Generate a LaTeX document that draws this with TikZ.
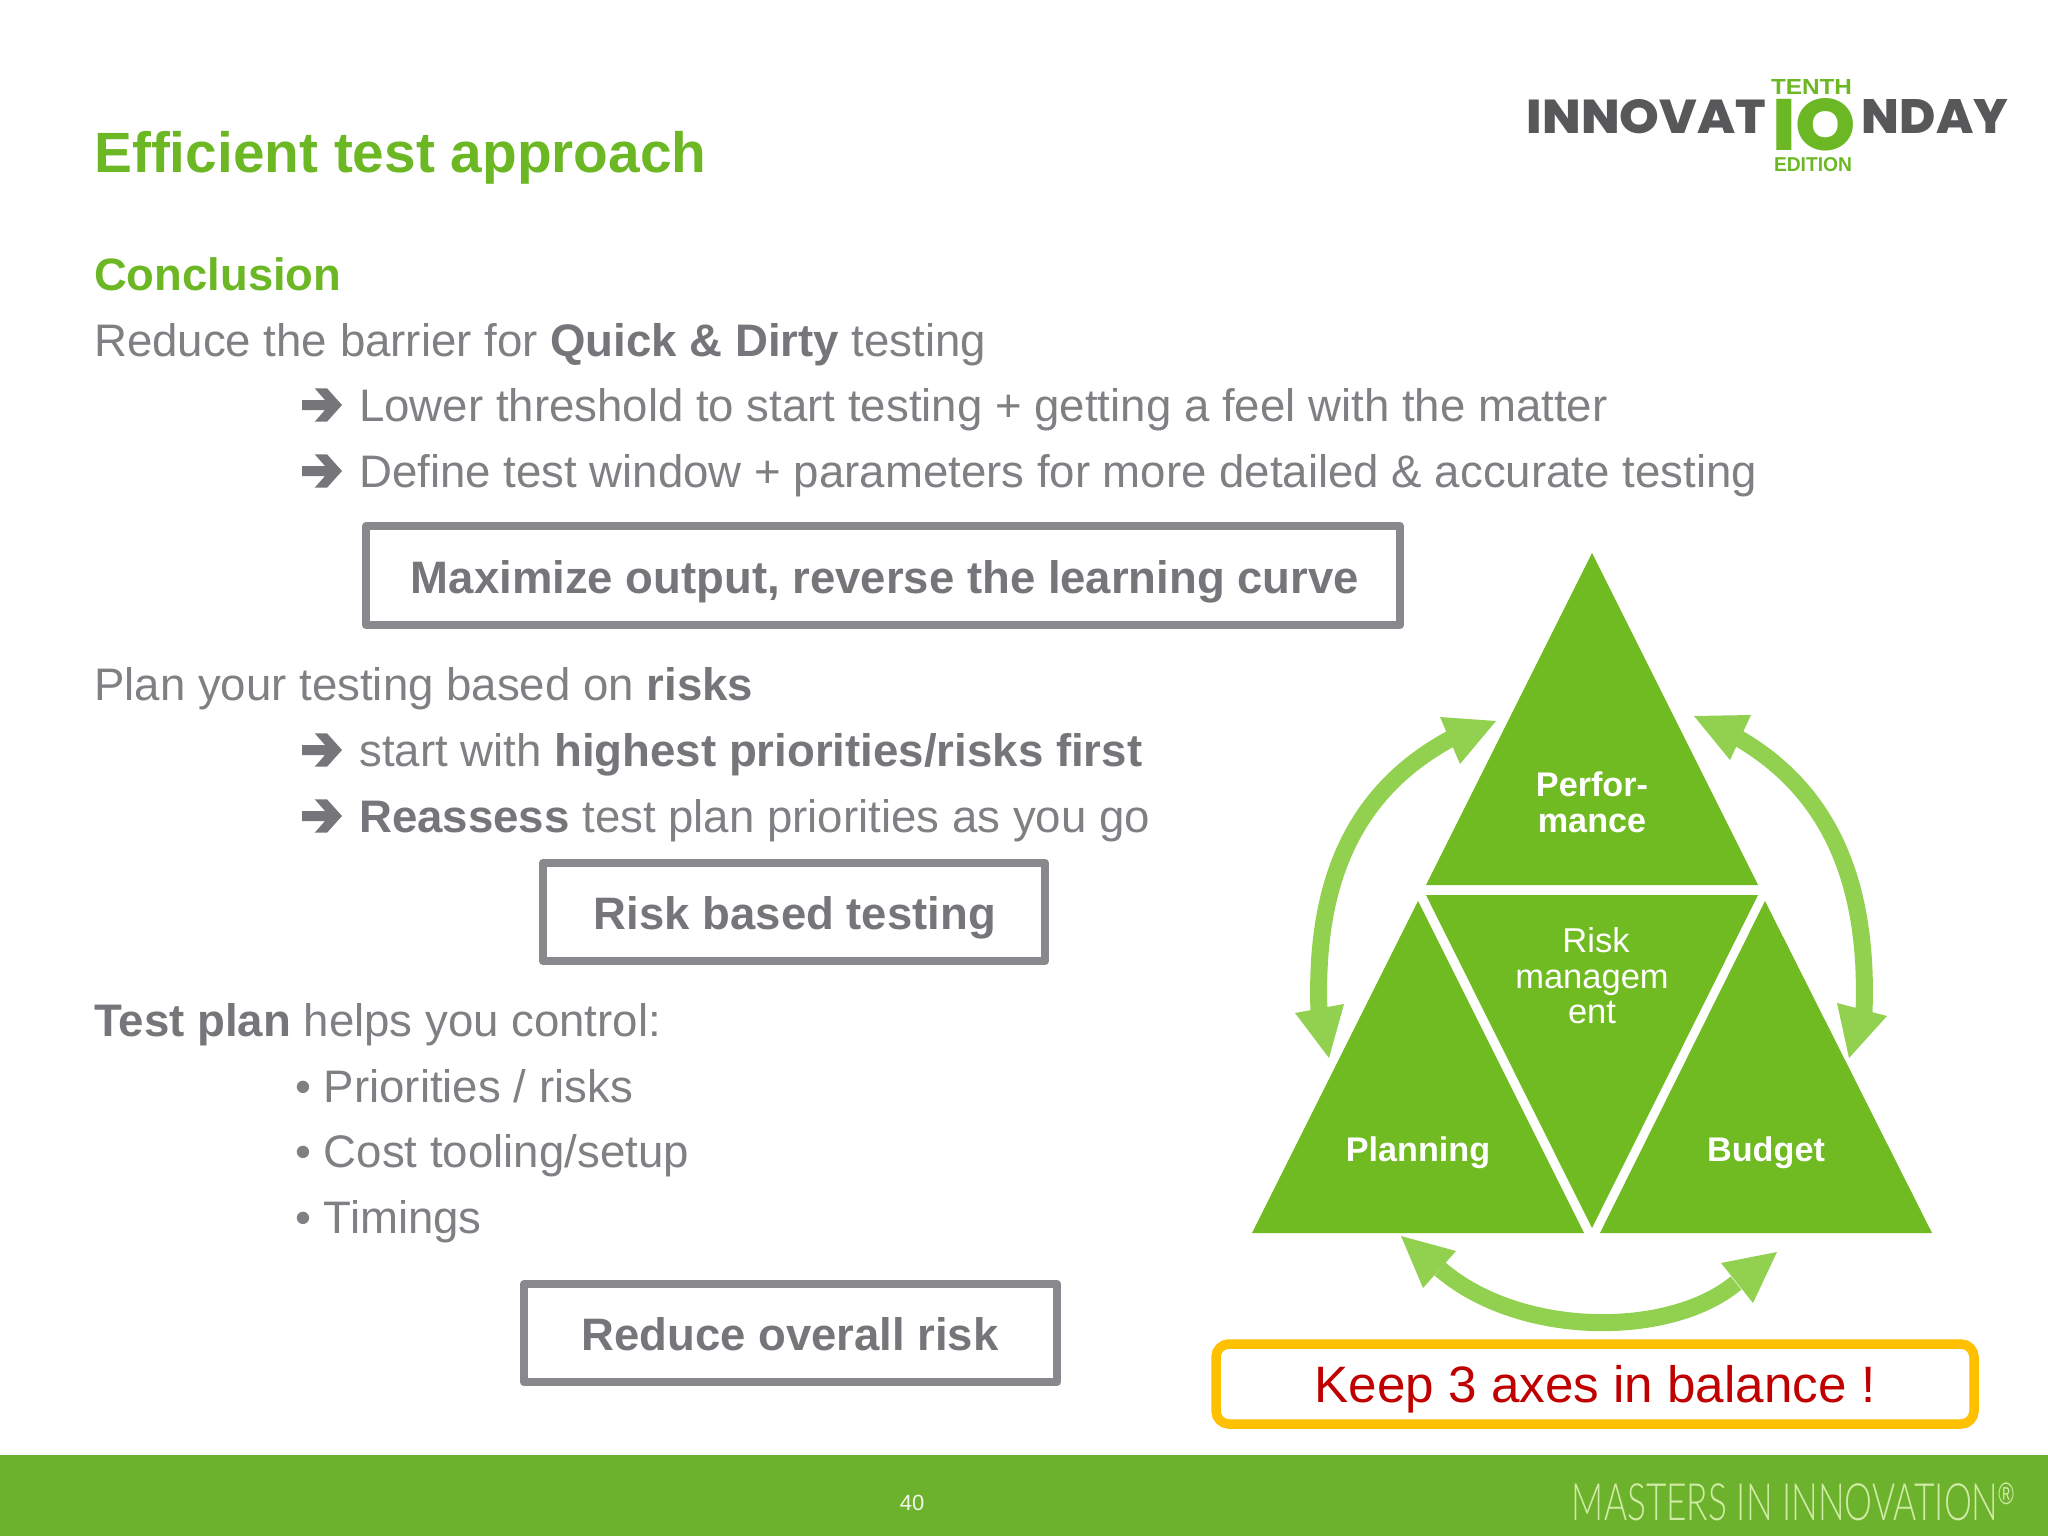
\documentclass[tikz,border=0pt]{standalone}
\usepackage{fontspec}
\usepackage{graphicx}
\setmainfont{Liberation Sans}
\newfontfamily\logofont{Poppins}[UprightFont=* ExtraBold]
\newfontfamily\thinfont{Lato Light}
\definecolor{titlegreen}{RGB}{108,184,36}
\definecolor{trigreen}{RGB}{112,186,34}
\definecolor{arclight}{RGB}{146,208,80}
\definecolor{bargreen}{RGB}{109,178,44}
\definecolor{bodygrey}{RGB}{128,128,132}
\definecolor{boldgrey}{RGB}{118,118,122}
\definecolor{boxgrey}{RGB}{137,136,140}
\definecolor{logogrey}{RGB}{88,88,90}
\definecolor{keepred}{RGB}{192,0,0}
\definecolor{keepgold}{RGB}{255,192,0}
\definecolor{slogan}{RGB}{208,235,165}
\tikzset{
  txt/.style={anchor=base west,inner sep=0pt,text=bodygrey,font=\fontsize{45.6}{50}\selectfont},
  heading/.style={anchor=base west,inner sep=0pt,text=titlegreen,font=\bfseries\fontsize{45.4}{50}\selectfont},
  boxtext/.style={anchor=base,inner sep=0pt,text=boldgrey,font=\bfseries\fontsize{45.5}{50}\selectfont},
  greybox/.style={draw=boxgrey,line width=8pt,line join=round},
  tri/.style={fill=trigreen},
  shaft/.style={draw=arclight,line width=17pt},
  head/.style={fill=arclight},
  trilabel/.style={anchor=base,inner sep=0pt,text=white,font=\bfseries\fontsize{34.2}{38}\selectfont},
  midlabel/.style={anchor=base,inner sep=0pt,text=white,font=\fontsize{34.5}{38}\selectfont},
  logo/.style={inner sep=0pt,anchor=center},
  pics/chev/.style={code={\fill[boldgrey] (0,-5) -- (23,-5) -- (12.7,-16.7) -- (25,-16.7) -- (40,0) -- (25,16.7) -- (12.7,16.7) -- (23,5) -- (0,5) -- cycle;}}
}
\newcommand{\bd}[1]{\textcolor{boldgrey}{\bfseries #1}}
\begin{document}
\begin{tikzpicture}[x=1pt,y=-1pt]
\useasboundingbox (0,0) rectangle (2048,1536);
\fill[white] (0,0) rectangle (2048,1536);

% footer
\fill[bargreen] (0,1455) rectangle (2048,1536);
\node[anchor=base,inner sep=0pt,text=white!90!bargreen,font=\fontsize{22}{26}\selectfont] (pagenum) at (912,1510) {40};
\node[logo,text=slogan] (masters) at (1793,1502) {\resizebox{442pt}{37pt}{\thinfont MASTERS IN INNOVATION{\rmfamily\raisebox{3pt}{\fontsize{6}{6}\selectfont ®}}}};

% title block
\node[anchor=base west,inner sep=0pt,text=titlegreen,font=\bfseries\fontsize{56.8}{64}\selectfont] (title) at (94,172) {Efficient test approach};
\node[heading] (concl) at (94,290) {Conclusion};
\node[txt] (l1) at (94,356) {Reduce the barrier for \bd{Quick \& Dirty} testing};
\pic at (302,405) {chev};
\node[txt] (l2) at (359,421) {Lower threshold to start testing + getting a feel with the matter};
\pic at (302,471) {chev};
\node[txt] (l3) at (359,487) {Define test window + parameters for more detailed \& accurate testing};

\draw[greybox] (366,526) rectangle (1400,625);
\node[boxtext] (b1) at (885,593) {Maximize output, reverse the learning curve};

\node[txt] (l4) at (94,700) {Plan your testing based on \bd{risks}};
\pic at (302,750) {chev};
\node[txt] (l5) at (359,766) {start with \bd{highest priorities/risks first}};
\pic at (302,816) {chev};
\node[txt] (l6) at (359,832) {\bd{Reassess} test plan priorities as you go};

\draw[greybox] (543,863) rectangle (1045,961);
\node[boxtext] (b2) at (795,929) {Risk based testing};

\node[txt] (l7) at (94,1036) {\bd{Test plan} helps you control:};
\node[txt] (l8) at (295,1102) {• Priorities / risks};
\node[txt] (l9) at (295,1167) {• Cost tooling/setup};
\node[txt] (l10) at (295,1233) {• Timings};

\draw[greybox] (524,1284) rectangle (1057,1382);
\node[boxtext] (b3) at (790,1350) {Reduce overall risk};

% logo
\node[logo,text=logogrey] (lg1) at (1646.5,116.5) {\resizebox{239pt}{34pt}{\logofont INNOVAT}};
\node[logo,text=logogrey] (lg2) at (1935,116.5) {\resizebox{146pt}{34pt}{\logofont NDAY}};
\node[logo,text=titlegreen] (lg3) at (1814,124.5) {\resizebox{84pt}{52pt}{\logofont IO}};
\node[logo,text=titlegreen] (lg4) at (1811.5,87) {\resizebox{81pt}{15pt}{\bfseries TENTH}};
\node[logo,text=titlegreen] (lg5) at (1813,164.5) {\resizebox{78pt}{14pt}{\bfseries EDITION}};

% triangles
\fill[tri] (1592,553) -- (1758,885) -- (1426,885) -- cycle;
\fill[tri] (1426,895) -- (1758,895) -- (1592,1228) -- cycle;
\fill[tri] (1418,901) -- (1584,1233) -- (1252,1233) -- cycle;
\fill[tri] (1765,901) -- (1932,1233) -- (1600,1233) -- cycle;
\node[trilabel] (p1) at (1592,796) {Perfor-};
\node[trilabel] (p2) at (1592,832) {mance};
\node[midlabel] (r1) at (1596,952) {Risk};
\node[midlabel] (r2) at (1592,988) {managem};
\node[midlabel] (r3) at (1592,1023) {ent};
\node[trilabel] (pl) at (1418,1161) {Planning};
\node[trilabel] (bu) at (1766,1161) {Budget};

% arcs
\coordinate (la) at (1452,738);
\coordinate (lb) at (1319,1012);
\coordinate (ra) at (1738,738);
\coordinate (rb) at (1864,1012);
\coordinate (ba) at (1440,1269);
\coordinate (bb) at (1736,1283);
\draw[shaft] (la) .. controls (1355,790) and (1314,880) .. (lb);
\draw[shaft] (ra) .. controls (1828,790) and (1869,880) .. (rb);
\draw[shaft] (ba) .. controls (1520,1338) and (1670,1338) .. (bb);
\fill[head] (1496,721) -- (1440,717) -- (1460,764) -- cycle;
\fill[head] (1329,1058) -- (1295,1013) -- (1344,1004) -- cycle;
\fill[head] (1694,716) -- (1751,715) -- (1730,760) -- cycle;
\fill[head] (1849,1058) -- (1837,1003) -- (1887,1016) -- cycle;
\fill[head] (1401,1236) -- (1456,1251) -- (1423,1288) -- cycle;
\fill[head] (1777,1252) -- (1721,1263) -- (1753,1303) -- cycle;

% keep box
\draw[draw=keepgold,fill=white,line width=9.5pt,rounded corners=13pt] (1216,1344) rectangle (1974,1424);
\node[anchor=base,inner sep=0pt,text=keepred,font=\fontsize{51.2}{58}\selectfont] (keep) at (1595,1402) {Keep 3 axes in balance !};
\end{tikzpicture}
\end{document}
